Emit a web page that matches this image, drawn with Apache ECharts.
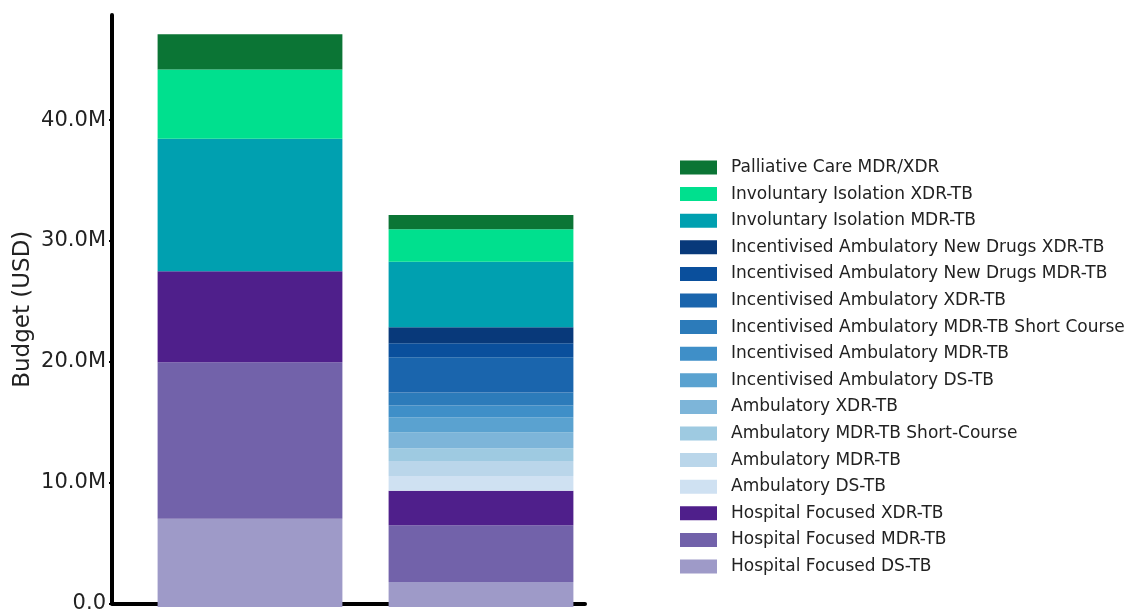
<!DOCTYPE html>
<html>
<head>
<meta charset="utf-8">
<script src="https://cdn.jsdelivr.net/npm/echarts@6/dist/echarts.min.js"></script>
<style>html,body{margin:0;padding:0;background:#fff;}#c{width:1134px;height:614px;}</style>
</head>
<body>
<div id="c"></div>
<script>
// Two scenarios (their x labels are cut off in the reference)
const categories = ['Scenario 1', 'Scenario 2'];
const seriesNames = [
  'Hospital Focused DS-TB',
  'Hospital Focused MDR-TB',
  'Hospital Focused XDR-TB',
  'Ambulatory DS-TB',
  'Ambulatory MDR-TB',
  'Ambulatory MDR-TB Short-Course',
  'Ambulatory XDR-TB',
  'Incentivised Ambulatory DS-TB',
  'Incentivised Ambulatory MDR-TB',
  'Incentivised Ambulatory MDR-TB Short Course',
  'Incentivised Ambulatory XDR-TB',
  'Incentivised Ambulatory New Drugs MDR-TB',
  'Incentivised Ambulatory New Drugs XDR-TB',
  'Involuntary Isolation MDR-TB',
  'Involuntary Isolation XDR-TB',
  'Palliative Care MDR/XDR'
];
// values in millions USD, [scenario 1, scenario 2]
const hospitalDS = [7.25, 2.06];
const hospitalMDR = [12.88, 4.66];
const hospitalXDR = [7.50, 2.85];
const ambDS = [0, 1.21];
const ambMDR = [0, 1.24];
const ambMDRShort = [0, 1.04];
const ambXDR = [0, 1.32];
const incAmbDS = [0, 1.20];
const incAmbMDR = [0, 0.99];
const incAmbMDRShort = [0, 1.07];
const incAmbXDR = [0, 2.91];
const incAmbNewMDR = [0, 1.15];
const incAmbNewXDR = [0, 1.32];
const involMDR = [10.89, 5.38];
const involXDR = [5.70, 2.68];
const palliative = [2.90, 1.16];
const seriesValues = [hospitalDS, hospitalMDR, hospitalXDR, ambDS, ambMDR, ambMDRShort, ambXDR,
  incAmbDS, incAmbMDR, incAmbMDRShort, incAmbXDR, incAmbNewMDR, incAmbNewXDR, involMDR, involXDR, palliative];
const colors = ['#9e9ac8', '#7262aa', '#4f1f8b', '#cfe1f2', '#bad6ea', '#9ecae1', '#7db5d9',
  '#5aa2d0', '#3f8fc8', '#2c7bba', '#1a65ad', '#0a4f9c', '#08397a', '#00a0b0', '#00e08e', '#0b7535'];
const yTicks = [0, 10e6, 20e6, 30e6, 40e6];
const xTickPositions = [0, 1];
const yMax = 48.7e6;

const font = 'DejaVu Sans';
const chart = echarts.init(document.getElementById('c'), null, {renderer: 'canvas'});
const series = seriesNames.map((name, i) => ({
  name: name,
  type: 'bar',
  stack: 'total',
  barWidth: '80%',
  xAxisIndex: 0,
  yAxisIndex: 0,
  itemStyle: {color: colors[i]},
  emphasis: {disabled: true},
  data: seriesValues[i].map(v => v * 1e6)
}));
chart.setOption({
  animation: false,
  color: colors,
  grid: [
    // bars
    {left: 134.5, right: 537.5, top: 15, bottom: 7, containLabel: false},
    // visible axes
    {left: 112, right: 549, top: 15, bottom: 7, containLabel: false}
  ],
  xAxis: [
    {type: 'category', gridIndex: 0, data: categories, show: false},
    {
      type: 'value', gridIndex: 1, min: -0.597, max: 1.45,
      axisLine: {show: true, onZero: false, lineStyle: {color: '#000', width: 4}},
      axisTick: {show: true, inside: true, length: 3, lineStyle: {color: '#000', width: 2}, customValues: xTickPositions},
      axisLabel: {show: false},
      splitLine: {show: false}
    }
  ],
  yAxis: [
    {type: 'value', gridIndex: 0, min: 0, max: yMax, show: false, splitLine: {show: false}},
    {
      type: 'value', gridIndex: 1, min: 0, max: yMax,
      name: 'Budget (USD)', nameLocation: 'middle', nameGap: 77,
      nameTextStyle: {fontFamily: font, fontSize: 23, color: '#222'},
      axisLine: {show: true, onZero: false, lineStyle: {color: '#000', width: 4}},
      axisTick: {show: true, length: 3, lineStyle: {color: '#000', width: 2}, customValues: yTicks},
      axisLabel: {
        fontFamily: font, fontSize: 21, color: '#222', margin: 6,
        padding: [5, 0, 0, 0],
        customValues: yTicks,
        formatter: v => v === 0 ? '0.0' : (v / 1e6).toFixed(1) + 'M'
      },
      splitLine: {show: false}
    }
  ],
  legend: {
    orient: 'vertical', left: 680, top: 159, padding: 0,
    itemWidth: 37, itemHeight: 14, itemGap: 9.6,
    icon: 'rect',
    data: seriesNames.slice().reverse(),
    textStyle: {fontFamily: font, fontSize: 17, lineHeight: 17, color: '#222', padding: [0, 0, 0, 9]},
    selectedMode: false
  },
  series: series
});
</script>
</body>
</html>
